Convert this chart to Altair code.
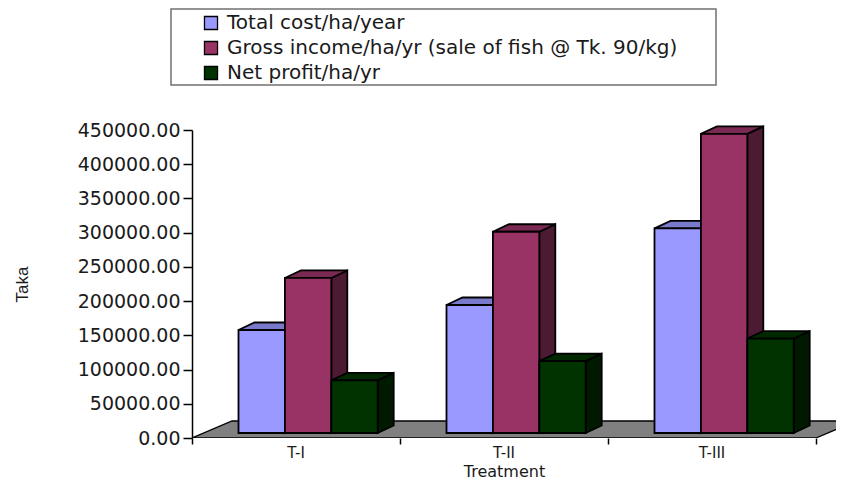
import altair as alt
import pandas as pd

groups = ["T-I", "T-II", "T-III"]
series = ["Total cost/ha/year", "Gross income/ha/yr (sale of fish @ Tk. 90/kg)", "Net profit/ha/yr"]
total_cost = [150500, 187000, 299000]
gross_income = [226500, 294000, 437000]
net_profit = [77000, 105000, 138000]
y_ticks = [0, 50000, 100000, 150000, 200000, 250000, 300000, 350000, 400000, 450000]
front_colors = ["#9999FF", "#993366", "#003300"]
top_colors = ["#7A7ACC", "#7A2952", "#002900"]
side_colors = ["#4D4D80", "#4D1A33", "#001A00"]

PX_PER_GROUP = 208.0
PLOT_W, PLOT_H = 644, 308
Y_MAX = 450000
PX_PER_VAL = PLOT_H / Y_MAX
GAP = 46.5 / PX_PER_GROUP
BAR = 46.4 / PX_PER_GROUP
DX = 16 / PX_PER_GROUP
DY = 7.5 / PX_PER_VAL
BASE = 5 / PX_PER_VAL
FLOOR_DX = 40 / PX_PER_GROUP
FLOOR_DY = 17 / PX_PER_VAL

values = [total_cost, gross_income, net_profit]
fronts, sides, tops = [], [], []
for g, name in enumerate(groups):
    for s, label in enumerate(series):
        v = values[s][g] + BASE
        x0 = g + GAP + s * BAR
        x1 = x0 + BAR
        key = f"{g}-{s}"
        fronts.append({"x": x0, "x2": x1, "y": BASE, "y2": v, "series": label})
        for px, lo, hi in [(x1, BASE, v), (x1 + DX, BASE + DY, v + DY)]:
            sides.append({"key": key, "x": px, "lo": lo, "hi": hi, "c": side_colors[s]})
        for px, lo, hi in [(x0, v, v), (x0 + DX, v, v + DY), (x1, v, v + DY), (x1 + DX, v + DY, v + DY)]:
            tops.append({"key": key, "x": px, "lo": lo, "hi": hi, "c": top_colors[s]})

floor = pd.DataFrame({
    "x": [0, FLOOR_DX, 3, 3 + FLOOR_DX],
    "lo": [0, 0, 0, FLOOR_DY],
    "hi": [0, FLOOR_DY, FLOOR_DY, FLOOR_DY],
})
labels = pd.DataFrame({"x": [g + 0.5 for g in range(len(groups))], "t": groups})

FONT = "DejaVu Sans"
TEXT = "#1a1a1a"
x_scale = alt.Scale(domain=[0, PLOT_W / PX_PER_GROUP], nice=False, zero=False)
y_scale = alt.Scale(domain=[0, Y_MAX], nice=False)
x_axis = alt.Axis(values=[0, 1, 2, 3], labels=False, domain=False, grid=False,
                  tickColor="black", tickWidth=1.5, tickSize=6,
                  titleFont=FONT, titleFontSize=16, titleFontWeight="normal",
                  titleColor=TEXT, titleX=312, titleY=38, titleBaseline="alphabetic")
y_axis = alt.Axis(values=y_ticks, format=".2f", grid=False,
                  domainColor="black", domainWidth=1.5,
                  tickColor="black", tickWidth=1.5, tickSize=9,
                  labelFont=FONT, labelFontSize=19, labelColor=TEXT, labelPadding=3,
                  titleFont="Liberation Sans", titleFontSize=17,
                  titleFontWeight="normal", titleColor=TEXT,
                  titleX=-161, titleY=154)

def X(field):
    return alt.X(field, scale=x_scale, title="Treatment", axis=x_axis)

def Y(field):
    return alt.Y(field, scale=y_scale, stack=None, title="Taka", axis=y_axis)

box = alt.Chart(pd.DataFrame({"a": [0]})).mark_rect(
    fill="white", stroke="#707070", strokeWidth=1.5, clip=False
).encode(x=alt.value(-21), x2=alt.value(524), y=alt.value(-121), y2=alt.value(-45))

floor_layer = alt.Chart(floor).mark_area(
    fill="#808080", stroke="black", strokeWidth=1.3, clip=True, interpolate="linear"
).encode(x=X("x:Q"), y=Y("lo:Q"), y2="hi:Q")

def faces(rows):
    return alt.Chart(pd.DataFrame(rows)).mark_area(
        stroke="black", strokeWidth=1.8, interpolate="linear", clip=False
    ).encode(
        x=X("x:Q"), y=Y("lo:Q"), y2="hi:Q",
        fill=alt.Fill("c:N", scale=None),
        detail="key:N",
    )

front_layer = alt.Chart(pd.DataFrame(fronts)).mark_rect(stroke="black", strokeWidth=1.8).encode(
    x=X("x:Q"), x2="x2:Q", y=Y("y:Q"), y2="y2:Q",
    fill=alt.Fill("series:N", scale=alt.Scale(domain=series, range=front_colors),
                  legend=alt.Legend(title=None, orient="none", legendX=9, legendY=-117,
                                    padding=0, symbolType="square", symbolSize=170,
                                    symbolStrokeColor="black", symbolStrokeWidth=1.3,
                                    symbolOpacity=1, labelFont=FONT, labelFontSize=20,
                                    labelColor=TEXT, labelLimit=520, labelOffset=6,
                                    rowPadding=5)),
)

text_layer = alt.Chart(labels).mark_text(font=FONT, fontSize=15, color=TEXT, baseline="middle").encode(
    x=X("x:Q"),
    y=alt.value(PLOT_H + 15),
    text="t:N",
)

chart = alt.layer(box, floor_layer, faces(sides), faces(tops), front_layer, text_layer).properties(
    width=PLOT_W, height=PLOT_H,
    padding={"left": 184, "top": 122, "right": 0, "bottom": 42},
    autosize=alt.AutoSizeParams(type="none"),
    background="white",
).configure_view(stroke=None)

chart.save("out.html", embed_options={"renderer": "svg", "actions": False})
